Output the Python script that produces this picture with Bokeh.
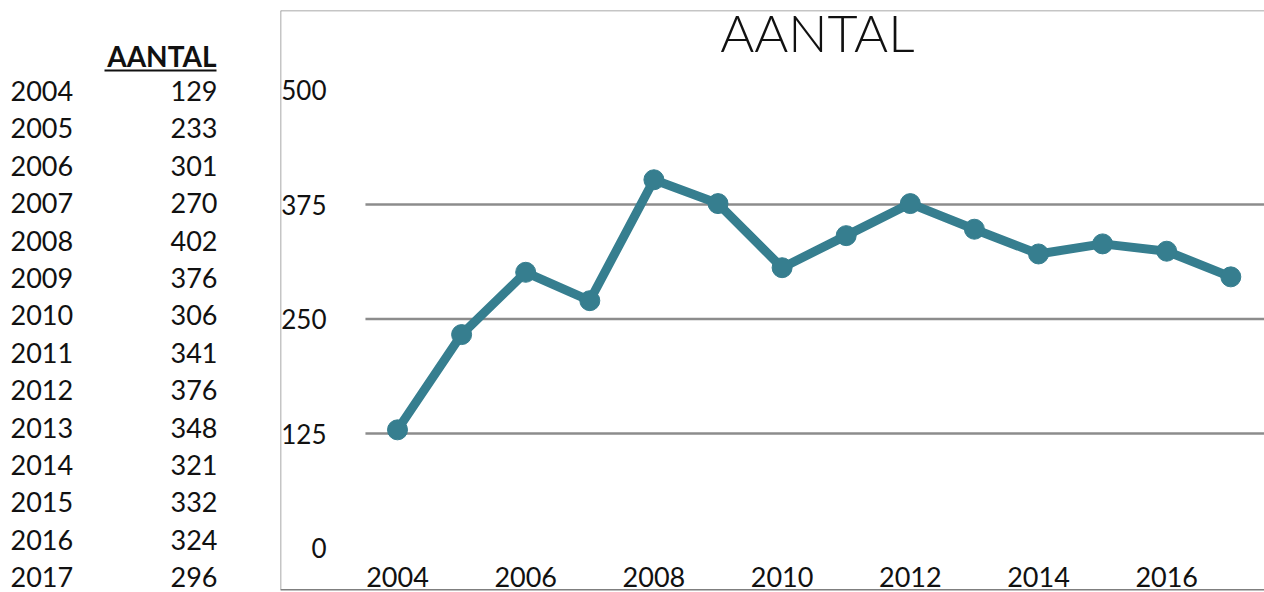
from bokeh.plotting import figure
from bokeh.layouts import row
from bokeh.models import Range1d, Span
from bokeh.core.properties import value
from bokeh.embed import file_html
from bokeh.resources import INLINE

# ---------------- data ----------------
years = [2004, 2005, 2006, 2007, 2008, 2009, 2010, 2011, 2012, 2013, 2014, 2015, 2016, 2017]
aantal = [129, 233, 301, 270, 402, 376, 306, 341, 376, 348, 321, 332, 324, 296]
y_ticks = [0, 125, 250, 375, 500]
grid_levels = [125, 250, 375]
x_tick_years = [2004, 2006, 2008, 2010, 2012, 2014, 2016]
title_text = "AANTAL"
header_text = "AANTAL"

FONT = "Lato"
TXT = "#111111"
TEAL = "#367e8f"
GRID = "#8c8c8c"

# shared frame extents (row layout aligns the frames of both figures)
top_page, bottom_page = 10, 590
H = 592

# ---------------- left table ----------------
tw = 279
row_idx = list(range(len(years)))
r0_px, r_step = 90.5, 37.4          # page px of first row centre, row spacing
tbl = figure(width=tw, height=H, output_backend="svg", toolbar_location=None,
             x_axis_type=None, y_axis_type=None,
             x_range=Range1d(0, tw),
             y_range=Range1d((bottom_page - r0_px) / r_step, (top_page - r0_px) / r_step),
             min_border_left=0, min_border_right=0,
             min_border_top=top_page, min_border_bottom=H - bottom_page,
             outline_line_color=None)
tbl.grid.visible = False
tbl.text(x=[10] * len(years), y=row_idx, text=[str(y) for y in years],
         text_font=value(FONT), text_font_size="27px", text_color=TXT,
         text_align="left", text_baseline="middle")
tbl.text(x=[217] * len(aantal), y=row_idx, text=[str(v) for v in aantal],
         text_font=value(FONT), text_font_size="27px", text_color=TXT,
         text_align="right", text_baseline="middle")
hdr_row = -0.94
tbl.text(x=[216], y=[hdr_row], text=[header_text],
         text_font=value(FONT), text_font_size="28px", text_font_style="bold",
         text_color=TXT, text_align="right", text_baseline="middle")
ul_row = -0.55
tbl.segment(x0=[104], x1=[216], y0=[ul_row], y1=[ul_row],
            line_color=TXT, line_width=2)

# ---------------- chart ----------------
cw = 1264 - tw
px_per_year = 64.1
px_per_unit = 0.916
frame_left_page, frame_right_page = 280, 1264
zero_page = 547.5
first_x_page = 397
x_start = years[0] - (first_x_page - frame_left_page) / px_per_year
x_end = years[0] + (frame_right_page - first_x_page) / px_per_year
y_end = (zero_page - top_page) / px_per_unit
y_start = -(bottom_page - zero_page) / px_per_unit

p = figure(width=cw, height=H, output_backend="svg", toolbar_location=None,
           x_axis_type=None, y_axis_type=None,
           x_range=Range1d(x_start, x_end), y_range=Range1d(y_start, y_end),
           min_border_left=1, min_border_right=0,
           min_border_top=top_page, min_border_bottom=H - bottom_page,
           outline_line_color=None, background_fill_color="white")
p.grid.visible = False

# frame lines
p.add_layout(Span(location=y_end, dimension="width", line_color=GRID, line_width=1.5))
p.add_layout(Span(location=x_start, dimension="height", line_color=GRID, line_width=1.5))
p.add_layout(Span(location=y_start, dimension="width", line_color="#7f7f7f", line_width=3))

# horizontal grid lines (start half a year before first point)
p.segment(x0=[years[0] - 0.5] * len(grid_levels), x1=[x_end] * len(grid_levels),
          y0=grid_levels, y1=grid_levels, line_color=GRID, line_width=2.5)

# y tick labels
p.text(x=[x_start] * len(y_ticks), y=y_ticks, text=[str(t) for t in y_ticks],
       x_offset=46, text_font=value(FONT), text_font_size="26px", text_color=TXT,
       text_align="right", text_baseline="middle")

# x tick labels
p.text(x=x_tick_years, y=[0] * len(x_tick_years), text=[str(t) for t in x_tick_years],
       y_offset=29, text_font=value(FONT), text_font_size="27px", text_color=TXT,
       text_align="center", text_baseline="middle")

# series
p.line(years, aantal, line_color=TEAL, line_width=9, line_join="round")
p.scatter(years, aantal, size=20, fill_color=TEAL, line_color=TEAL)

# title
p.text(x=[years[0] + 6.55], y=[y_end], text=[title_text], y_offset=21,
       text_font=value("Lato Light"), text_font_size="52px", text_color=TXT,
       text_align="center", text_baseline="middle")

layout = row(tbl, p)
open("out.html", "w").write(file_html(layout, INLINE))
